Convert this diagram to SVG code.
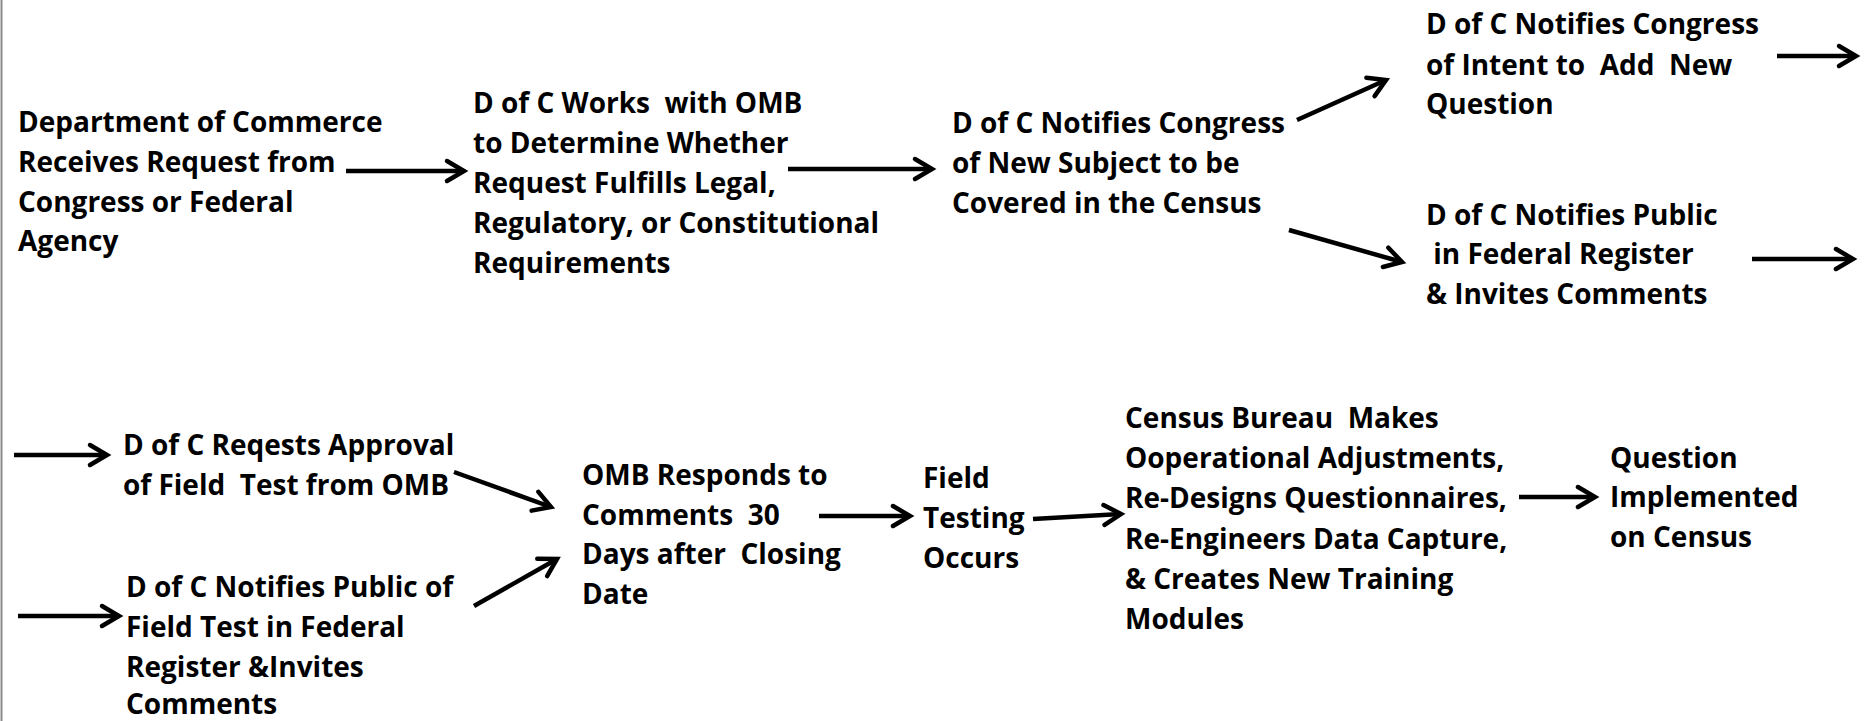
<svg xmlns="http://www.w3.org/2000/svg" width="1866" height="721" viewBox="0 0 1866 721">
<defs>
<style>
text{font-family:"Open Sans","Liberation Sans",sans-serif;font-weight:700;font-size:28px;fill:#000}
.c{stroke:#000;stroke-width:4.5;fill:none}
</style>
<marker id="ah" markerUnits="userSpaceOnUse" viewBox="-24 -14 30 28" markerWidth="30" markerHeight="28" refX="0" refY="0" orient="auto">
<path d="M-17,-10 L0,0 L-17,10" fill="none" stroke="#000" stroke-width="4.5" stroke-linecap="round" stroke-linejoin="miter"/>
</marker>
</defs>
<rect x="0" y="0" width="1866" height="721" fill="#fff"/>
<line x1="1.5" y1="0" x2="1.5" y2="721" stroke="#8a8a8a" stroke-width="2"/>
<g id="connectors">
<line class="c" x1="346" y1="171" x2="464" y2="171" marker-end="url(#ah)"/>
<line class="c" x1="788" y1="169" x2="932" y2="169" marker-end="url(#ah)"/>
<line class="c" x1="1297" y1="120" x2="1386" y2="80" marker-end="url(#ah)"/>
<line class="c" x1="1289" y1="230" x2="1402" y2="262" marker-end="url(#ah)"/>
<line class="c" x1="1777" y1="56" x2="1856" y2="56" marker-end="url(#ah)"/>
<line class="c" x1="1752" y1="259" x2="1853" y2="259" marker-end="url(#ah)"/>
<line class="c" x1="14" y1="455" x2="107" y2="455" marker-end="url(#ah)"/>
<line class="c" x1="18" y1="616" x2="119" y2="616" marker-end="url(#ah)"/>
<line class="c" x1="454" y1="472" x2="551" y2="507" marker-end="url(#ah)"/>
<line class="c" x1="474" y1="606" x2="557" y2="559" marker-end="url(#ah)"/>
<line class="c" x1="819" y1="516" x2="910" y2="516" marker-end="url(#ah)"/>
<line class="c" x1="1033" y1="519" x2="1121" y2="514" marker-end="url(#ah)"/>
<line class="c" x1="1519" y1="497" x2="1595" y2="497" marker-end="url(#ah)"/>
</g>
<g id="n1">
<text x="18" y="132">Department of Commerce</text>
<text x="18" y="172">Receives Request from</text>
<text x="18" y="212">Congress or Federal</text>
<text x="18" y="251">Agency</text>
</g>
<g id="n2">
<text x="473" y="113" xml:space="preserve">D of C Works  with OMB</text>
<text x="473" y="153">to Determine Whether</text>
<text x="473" y="193">Request Fulfills Legal,</text>
<text x="473" y="233">Regulatory, or Constitutional</text>
<text x="473" y="273">Requirements</text>
</g>
<g id="n3">
<text x="952" y="133">D of C Notifies Congress</text>
<text x="952" y="173">of New Subject to be</text>
<text x="952" y="213">Covered in the Census</text>
</g>
<g id="n4">
<text x="1426" y="34">D of C Notifies Congress</text>
<text x="1426" y="75" xml:space="preserve">of Intent to  Add  New</text>
<text x="1426" y="114">Question</text>
</g>
<g id="n5">
<text x="1426" y="225">D of C Notifies Public</text>
<text x="1426" y="264" xml:space="preserve"> in Federal Register</text>
<text x="1426" y="304">&amp; Invites Comments</text>
</g>
<g id="n6">
<text x="123" y="455">D of C Reqests Approval</text>
<text x="123" y="495" xml:space="preserve">of Field  Test from OMB</text>
</g>
<g id="n7">
<text x="126" y="597">D of C Notifies Public of</text>
<text x="126" y="637">Field Test in Federal</text>
<text x="126" y="677">Register &amp;Invites</text>
<text x="126" y="714">Comments</text>
</g>
<g id="n8">
<text x="582" y="485">OMB Responds to</text>
<text x="582" y="525" xml:space="preserve">Comments  30</text>
<text x="582" y="564" xml:space="preserve">Days after  Closing</text>
<text x="582" y="604">Date</text>
</g>
<g id="n9">
<text x="923" y="488">Field</text>
<text x="923" y="528">Testing</text>
<text x="923" y="568">Occurs</text>
</g>
<g id="n10">
<text x="1125" y="428" xml:space="preserve">Census Bureau  Makes</text>
<text x="1125" y="468">Ooperational Adjustments,</text>
<text x="1125" y="508">Re-Designs Questionnaires,</text>
<text x="1125" y="549">Re-Engineers Data Capture,</text>
<text x="1125" y="589">&amp; Creates New Training</text>
<text x="1125" y="629">Modules</text>
</g>
<g id="n11">
<text x="1610" y="468">Question</text>
<text x="1610" y="507">Implemented</text>
<text x="1610" y="547">on Census</text>
</g>
</svg>
